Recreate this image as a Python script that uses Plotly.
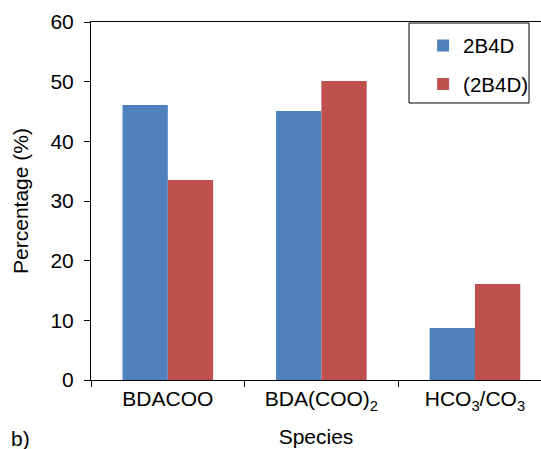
import plotly.graph_objects as go

# Species categories and percentage values for the two systems
species = ["BDACOO", "BDA(COO)<sub>2</sub>", "HCO<sub>3</sub>/CO<sub>3</sub>"]
series_names = ["2B4D", "(2B4D)"]
pct_2b4d = [46.1, 45.1, 8.7]
pct_2b4d_pair = [33.5, 50.1, 16.1]
colors = ["#4F81BD", "#C0504D"]
y_ticks = [0, 10, 20, 30, 40, 50, 60]

FAMILY = "Liberation Sans, Arial, sans-serif"
font = dict(family=FAMILY, size=21, color="black")

fig = go.Figure()
for name, vals, col, grp in zip(series_names, [pct_2b4d, pct_2b4d_pair], colors, ["a", "b"]):
    fig.add_trace(go.Bar(
        x=species, y=vals, name=name, marker=dict(color=col, line=dict(width=0)),
        legendgroup=grp,
    ))

fig.update_layout(
    width=541, height=449,
    margin=dict(l=91, r=0, t=22, b=69),
    paper_bgcolor="white", plot_bgcolor="white",
    font=font,
    barmode="group", bargap=0.41, bargroupgap=0,
    showlegend=True,
    legend=dict(
        x=0.738, y=0.99, xanchor="left", yanchor="top",
        borderwidth=0, bgcolor="rgba(0,0,0,0)",
        font=dict(family=FAMILY, size=20.5, color="black"),
        traceorder="grouped", tracegroupgap=9,
    ),
)

# legend frame
fig.add_shape(
    type="rect", xref="paper", yref="paper",
    x0=(409 - 91) / 450, x1=(529 - 91) / 450,
    y0=(380 - 103) / 358, y1=(380 - 23) / 358,
    line=dict(color="black", width=1), fillcolor="rgba(0,0,0,0)", layer="above",
)

fig.update_xaxes(
    type="category", range=[-0.5, 2.43],
    showline=True, linecolor="black", linewidth=1,
    mirror=True, ticks="outside", tickson="boundaries",
    ticklen=6, tickcolor="black", showgrid=False,
    title=dict(text="Species", font=font, standoff=16),
    tickfont=font,
)
fig.update_yaxes(
    range=[0, 60], tickvals=y_ticks,
    showline=True, linecolor="black", linewidth=1,
    ticks="outside", ticklen=6, tickcolor="black", showgrid=False,
    zeroline=False, ticklabelstandoff=6,
    title=dict(text="Percentage (%)", font=font, standoff=16),
    tickfont=font,
)

fig.add_annotation(
    text="b)", xref="paper", yref="paper", x=(9 - 91) / 450, y=(380 - 438) / 358,
    xanchor="left", yanchor="middle", showarrow=False, font=font,
)

fig.write_html("out.html")
